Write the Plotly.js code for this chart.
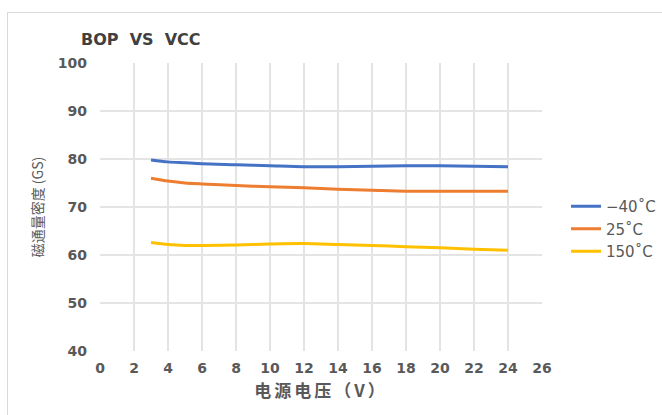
<!DOCTYPE html>
<html>
<head>
<meta charset="utf-8">
<script src="https://cdn.plot.ly/plotly-3.0.1.min.js"></script>
<style>
html,body{margin:0;padding:0;background:#fff;overflow:hidden;}
#chart{width:662px;height:415px;}
#frame{position:absolute;left:7px;top:12px;width:700px;height:500px;border-top:1.5px solid #d9d9d9;border-left:1.5px solid #d9d9d9;pointer-events:none;}
.g-xtitle text{letter-spacing:3px;}
</style>
</head>
<body>
<div id="chart"></div>
<div id="frame"></div>
<script>
const vcc = [3, 4, 5, 6, 8, 10, 12, 14, 16, 18, 20, 22, 24];
const bopM40 = [79.8, 79.4, 79.2, 79.0, 78.8, 78.6, 78.4, 78.4, 78.5, 78.6, 78.6, 78.5, 78.4];
const bop25 = [76.0, 75.4, 75.0, 74.8, 74.5, 74.2, 74.0, 73.7, 73.5, 73.3, 73.3, 73.3, 73.3];
const bop150 = [62.6, 62.2, 62.0, 62.0, 62.1, 62.3, 62.4, 62.2, 62.0, 61.7, 61.5, 61.2, 61.0];
const seriesNames = ['\u221240\u02daC', '25\u02daC', '150\u02daC'];
const colors = ['#4472c4', '#ed7d31', '#ffc000'];
const xTicks = [0,2,4,6,8,10,12,14,16,18,20,22,24,26];
const yTicks = [40,50,60,70,80,90,100];

const seriesY = [bopM40, bop25, bop150];
const traces = seriesY.map((y, i) => ({
  x: vcc, y: y, type: 'scatter', mode: 'lines', name: seriesNames[i],
  line: {color: colors[i], width: 3, shape: 'spline', smoothing: 0.8}
}));

const tickFont = {family: 'DejaVu Sans, sans-serif', size: 14, color: '#595959', weight: 'bold'};
const layout = {
  width: 662, height: 415,
  margin: {l: 100, r: 120, t: 63, b: 64, autoexpand: false},
  paper_bgcolor: '#fff', plot_bgcolor: '#fff',
  title: {text: 'BOP  VS  VCC', x: 81/662, xanchor: 'left', y: 1 - 39/415, yanchor: 'middle',
          font: {family: 'DejaVu Sans, sans-serif', size: 16, color: '#404040', weight: 'bold'}},
  xaxis: {range: [0, 26], tickvals: xTicks, ticktext: xTicks.map(String), showgrid: true, gridcolor: '#e4e4e4', gridwidth: 1.5,
          zeroline: false, showline: false, ticks: '', tickfont: tickFont, ticklabelstandoff: 7,
          title: {text: '电源电压（V）', standoff: 10, font: {family: 'Noto Sans CJK SC, sans-serif', size: 17, color: '#595959', weight: 'bold'}}},
  yaxis: {range: [40, 100], tickvals: yTicks, ticktext: yTicks.map(String), showgrid: true, gridcolor: '#e4e4e4', gridwidth: 1.5,
          zeroline: false, showline: false, ticks: '', tickfont: tickFont, ticklabelstandoff: 12,
          title: {text: '磁通量密度 (GS)', standoff: 10, font: {family: 'Noto Sans CJK SC, sans-serif', size: 14, color: '#595959'}}},
  legend: {x: (566-100)/442, y: (351-229)/288, xanchor: 'left', yanchor: 'middle', tracegroupgap: 0,
           font: {family: 'DejaVu Sans, sans-serif', size: 15, color: '#595959'}, itemwidth: 30},
  showlegend: true
};
Plotly.newPlot('chart', traces, layout, {displayModeBar: false, staticPlot: true});
</script>
</body>
</html>
